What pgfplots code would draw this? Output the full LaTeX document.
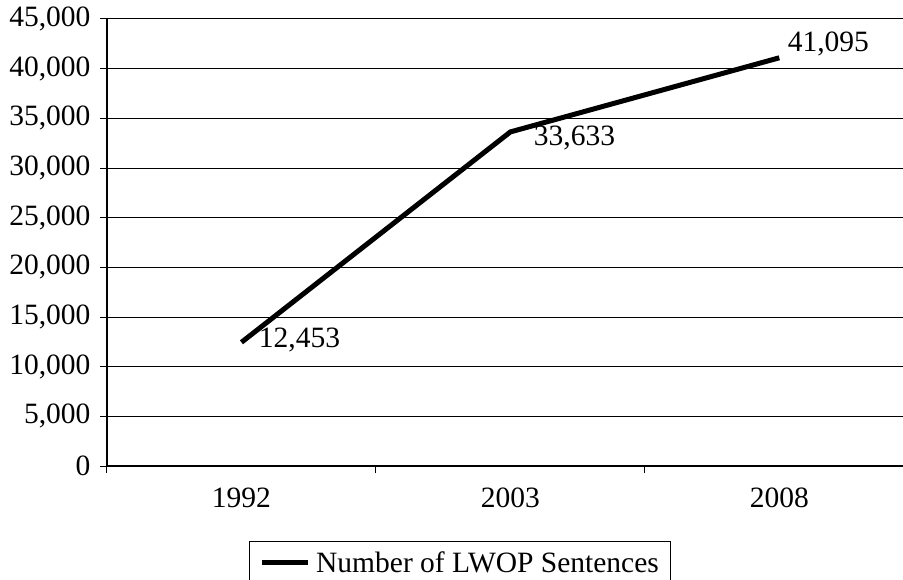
\documentclass[border=0pt]{standalone}
\usepackage{fontspec}
\setmainfont{Liberation Serif}
\usepackage{pgfplots}
\pgfplotsset{compat=1.18}
\newcommand\f{\fontsize{29.5}{35}\selectfont}
\begin{document}
\begin{tikzpicture}
\useasboundingbox (-107pt,-113pt) rectangle (796pt,466pt);
\clip (-107pt,-113pt) rectangle (796pt,466pt);
\begin{axis}[
  at={(0pt,0pt)}, anchor=south west,
  scale only axis, width=796pt, height=447pt,
  xmin=-0.5, xmax=2.46, ymin=0, ymax=45000,
  axis lines*=left,
  axis line style={black, line width=1.2pt},
  ytick={0,5000,...,45000},
  ymajorgrids, grid style={black, line width=1pt},
  xtick={0,1,2}, xticklabels={1992,2003,2008},
  minor xtick={-0.5,0.5,1.5},
  major x tick style={draw=none},
  minor x tick style={black, line width=1pt},
  y tick style={black, line width=1pt},
  tick align=outside,
  major tick length=7pt, minor tick length=7pt,
  /pgf/number format/assume math mode=true,
  /pgf/number format/.cd, 1000 sep={,}, /pgfplots/.cd,
  scaled y ticks=false,
  tick label style={font=\f},
  xticklabel style={yshift=-11pt},
  yticklabel style={xshift=-6pt},
  legend style={at={(axis description cs:0.4435,-0.168)}, anchor=north,
    draw=black, line width=1pt, font=\f, inner xsep=10pt, inner ysep=8pt},
  legend cell align=left,
  legend image code/.code={\draw[line width=5pt] (0pt,0pt) -- (46pt,0pt); \path (50pt,0pt);},
]
\addplot[black, line width=5pt, mark=none] coordinates {(0,12453) (1,33633) (2,41095)};
\addlegendentry{Number of LWOP Sentences}
\node[anchor=west, font=\f, xshift=14pt, yshift=2pt] at (axis cs:0,12453) {12,453};
\node[anchor=west, font=\f, xshift=20pt, yshift=-6pt] at (axis cs:1,33633) {33,633};
\node[anchor=west, font=\f, xshift=5pt, yshift=14pt] at (axis cs:2,41095) {41,095};
\end{axis}
\end{tikzpicture}
\end{document}
